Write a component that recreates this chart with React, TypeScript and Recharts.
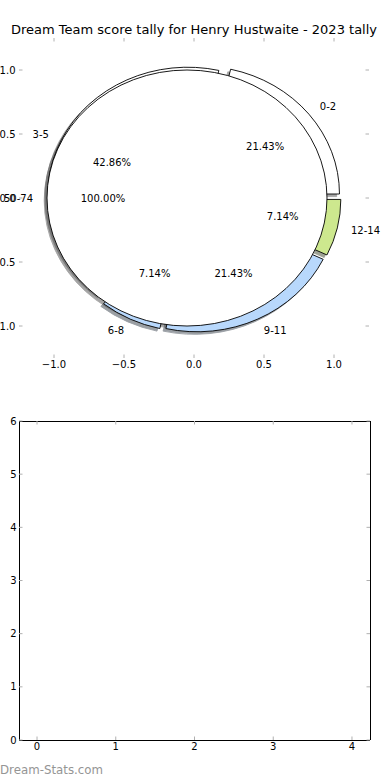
import React from 'react';
import { ScatterChart, Scatter, PieChart, Pie, XAxis, YAxis } from 'recharts';

// ---------- data ----------
const TITLE = 'Dream Team score tally for Henry Hustwaite - 2023 tally';
const WATERMARK = 'Dream-Stats.com';

const OUTER_CATEGORIES = ['0-2', '3-5', '6-8', '9-11', '12-14'];
const OUTER_VALUES = [3, 6, 1, 3, 1];
const INNER_CATEGORIES = ['50-74'];
const INNER_VALUES = [14];

const PIE_TICKS = [-1, -0.5, 0, 0.5, 1];
const BAR_X_TICKS = [0, 1, 2, 3, 4];
const BAR_Y_TICKS = [0, 1, 2, 3, 4, 5, 6];
const BAR_POINTS: { x: number; y: number }[] = [];

// ---------- styles ----------
const OUTER_COLORS = ['#ffffff', '#ffffff', '#b8d8fc', '#b8d8fc', '#cde88e'];
const INNER_COLORS = ['#ffffff'];
const FONT = "'DejaVu Sans', sans-serif";
const KY = 128 / 140; // vertical/horizontal unit ratio of the pie axes
const EXPLODE = 0.05;
const SHADOW_OFF = 0.02;
const RAD = Math.PI / 180;
const TICK_COLOR = '#b0b0b0';

const outerData = OUTER_CATEGORIES.map((name, i) => ({ name, value: OUTER_VALUES[i], color: OUTER_COLORS[i] }));
const innerData = INNER_CATEGORIES.map((name, i) => ({ name, value: INNER_VALUES[i], color: INNER_COLORS[i] }));

function sectorPath(cx: number, cy: number, r: number, a0: number, a1: number) {
  const ry = r * KY;
  if (Math.abs(a1 - a0) >= 359.999) {
    return `M ${cx + r} ${cy} A ${r} ${ry} 0 1 0 ${cx - r} ${cy} A ${r} ${ry} 0 1 0 ${cx + r} ${cy} Z`;
  }
  const x0 = cx + r * Math.cos(a0 * RAD);
  const y0 = cy - ry * Math.sin(a0 * RAD);
  const x1 = cx + r * Math.cos(a1 * RAD);
  const y1 = cy - ry * Math.sin(a1 * RAD);
  const large = Math.abs(a1 - a0) > 180 ? 1 : 0;
  const sweep = a1 > a0 ? 0 : 1;
  return `M ${cx} ${cy} L ${x0} ${y0} A ${r} ${ry} 0 ${large} ${sweep} ${x1} ${y1} Z`;
}

function shadowColor(hex: string) {
  const n = parseInt(hex.slice(1), 16);
  const r = Math.round(((n >> 16) & 255) * 0.3);
  const g = Math.round(((n >> 8) & 255) * 0.3);
  const b = Math.round((n & 255) * 0.3);
  return `rgb(${r},${g},${b})`;
}

function makeShape(kind: 'wedge' | 'shadow' | 'none') {
  return (p: any) => {
    if (kind === 'none') return <g />;
    const R = p.outerRadius;
    const mid = p.midAngle * RAD;
    let cx = p.cx + EXPLODE * R * Math.cos(mid);
    let cy = p.cy - EXPLODE * R * KY * Math.sin(mid);
    const color = (p.payload && p.payload.color) || p.color || '#ffffff';
    if (kind === 'shadow') {
      cx -= SHADOW_OFF * R;
      cy += SHADOW_OFF * R * KY;
      const sc = shadowColor(color);
      return (
        <path d={sectorPath(cx, cy, R, p.startAngle, p.endAngle)} fill={sc} stroke={sc} strokeWidth={0.9} opacity={0.5} />
      );
    }
    return <path d={sectorPath(cx, cy, R, p.startAngle, p.endAngle)} fill={color} stroke="#000" strokeWidth={0.9} />;
  };
}

function renderLabel(p: any) {
  const R = p.outerRadius;
  const mid = p.midAngle * RAD;
  const c = Math.cos(mid);
  const s = Math.sin(mid);
  const ex = p.cx + EXPLODE * R * c;
  const ey = p.cy - EXPLODE * R * KY * s;
  const lx = ex + 1.1 * R * c;
  const ly = ey - 1.1 * R * KY * s;
  const px = ex + 0.6 * R * c;
  const py = ey - 0.6 * R * KY * s;
  const anchor = lx - p.cx > 0 ? 'start' : 'end';
  const name = (p.payload && p.payload.name) || p.name;
  return (
    <g>
      <text x={lx} y={ly} dy="0.36em" textAnchor={anchor} fontSize={10} fill="#000" fontFamily={FONT}>
        {name}
      </text>
      <text x={px} y={py} dy="0.36em" textAnchor="middle" fontSize={10} fill="#000" fontFamily={FONT}>
        {(p.percent * 100).toFixed(2) + '%'}
      </text>
    </g>
  );
}

const tickStyle = { fontSize: 10, fill: '#000', fontFamily: FONT };
const spine = { stroke: '#000', strokeWidth: 1, shapeRendering: 'crispEdges' };
const fmtPie = (v: number) => (v < 0 ? '\u2212' : '') + Math.abs(v).toFixed(1);
const fmtNone = () => '';

export default function App() {
  const wedgeShadow = makeShape('shadow');
  const wedge = makeShape('wedge');
  const none = makeShape('none');
  return (
    <div style={{ position: 'absolute', left: 0, top: 0, width: 390, height: 780, background: '#fff', overflow: 'hidden' }}>
      {/* pie axes */}
      <div style={{ position: 'absolute', left: 0, top: 0 }}>
        <ScatterChart width={390} height={400} margin={{ top: 0, right: 0, bottom: 0, left: 0 }}>
          <XAxis xAxisId="b" dataKey="x" type="number" domain={[-1.25, 1.25]} allowDataOverflow ticks={PIE_TICKS} tickFormatter={fmtPie}
            height={42} axisLine={false} tickSize={-3.5} tickMargin={6} tickLine={{ stroke: TICK_COLOR }} tick={tickStyle} interval={0} />
          <XAxis xAxisId="t" dataKey="x" orientation="top" type="number" domain={[-1.25, 1.25]} allowDataOverflow ticks={PIE_TICKS} tickFormatter={fmtNone}
            height={38} axisLine={false} tickSize={-3.5} tickLine={{ stroke: TICK_COLOR }} tick={tickStyle} interval={0} />
          <YAxis yAxisId="l" dataKey="y" type="number" domain={[-1.25, 1.25]} allowDataOverflow ticks={PIE_TICKS} tickFormatter={fmtPie}
            width={19} axisLine={false} tickSize={-3.5} tickMargin={7} tickLine={{ stroke: TICK_COLOR }} tick={tickStyle} interval={0} />
          <YAxis yAxisId="r" dataKey="y" orientation="right" type="number" domain={[-1.25, 1.25]} allowDataOverflow ticks={PIE_TICKS} tickFormatter={fmtNone}
            width={21} axisLine={false} tickSize={-3.5} tickLine={{ stroke: TICK_COLOR }} tick={tickStyle} interval={0} />
          <Scatter data={BAR_POINTS} xAxisId="b" yAxisId="l" isAnimationActive={false} />
          <Scatter data={BAR_POINTS} xAxisId="t" yAxisId="r" isAnimationActive={false} />
        </ScatterChart>
      </div>
      {/* pies */}
      <div style={{ position: 'absolute', left: 0, top: 0 }}>
        <PieChart width={390} height={400} margin={{ top: 0, right: 0, bottom: 0, left: 0 }}>
          <Pie data={outerData} dataKey="value" nameKey="name" cx={194} cy={198} outerRadius={140} innerRadius={0}
            startAngle={0} endAngle={360} isAnimationActive={false} shape={wedgeShadow} inactiveShape={wedgeShadow} activeShape={wedgeShadow} labelLine={false} />
          <Pie data={innerData} dataKey="value" nameKey="name" cx={194} cy={198} outerRadius={140} innerRadius={0}
            startAngle={0} endAngle={360} isAnimationActive={false} shape={wedgeShadow} inactiveShape={wedgeShadow} activeShape={wedgeShadow} labelLine={false} />
          <Pie data={outerData} dataKey="value" nameKey="name" cx={194} cy={198} outerRadius={140} innerRadius={0}
            startAngle={0} endAngle={360} isAnimationActive={false} shape={wedge} inactiveShape={wedge} activeShape={wedge} labelLine={false} />
          <Pie data={innerData} dataKey="value" nameKey="name" cx={194} cy={198} outerRadius={140} innerRadius={0}
            startAngle={0} endAngle={360} isAnimationActive={false} shape={wedge} inactiveShape={wedge} activeShape={wedge} labelLine={false} />
          <Pie data={outerData} dataKey="value" nameKey="name" cx={194} cy={198} outerRadius={140} innerRadius={0}
            startAngle={0} endAngle={360} isAnimationActive={false} shape={none} inactiveShape={none} activeShape={none}
            label={renderLabel} labelLine={false} />
          <Pie data={innerData} dataKey="value" nameKey="name" cx={194} cy={198} outerRadius={140} innerRadius={0}
            startAngle={0} endAngle={360} isAnimationActive={false} shape={none} inactiveShape={none} activeShape={none}
            label={renderLabel} labelLine={false} />
        </PieChart>
      </div>
      {/* empty bottom axes */}
      <div style={{ position: 'absolute', left: 0, top: 400 }}>
        <ScatterChart width={390} height={380} margin={{ top: 0, right: 0, bottom: 0, left: 0 }}>
          <XAxis xAxisId="b" dataKey="x" type="number" domain={[-0.229, 4.229]} allowDataOverflow ticks={BAR_X_TICKS}
            height={40} axisLine={spine} tickSize={-3.5} tickMargin={6} tickLine={{ stroke: TICK_COLOR }} tick={tickStyle} interval={0} />
          <XAxis xAxisId="t" dataKey="x" orientation="top" type="number" domain={[-0.229, 4.229]} allowDataOverflow ticks={BAR_X_TICKS} tickFormatter={fmtNone}
            height={21} axisLine={spine} tickSize={-3.5} tickLine={{ stroke: TICK_COLOR }} tick={tickStyle} interval={0} />
          <YAxis yAxisId="l" dataKey="y" type="number" domain={[0, 6]} allowDataOverflow ticks={BAR_Y_TICKS}
            width={19} axisLine={spine} tickSize={-3.5} tickMargin={6} tickLine={{ stroke: TICK_COLOR }} tick={tickStyle} interval={0} />
          <YAxis yAxisId="r" dataKey="y" orientation="right" type="number" domain={[0, 6]} allowDataOverflow ticks={BAR_Y_TICKS} tickFormatter={fmtNone}
            width={20} axisLine={spine} tickSize={-3.5} tickLine={{ stroke: TICK_COLOR }} tick={tickStyle} interval={0} />
          <Scatter data={BAR_POINTS} xAxisId="b" yAxisId="l" isAnimationActive={false} />
          <Scatter data={BAR_POINTS} xAxisId="t" yAxisId="r" isAnimationActive={false} />
        </ScatterChart>
      </div>
      {/* title and watermark */}
      <svg width={390} height={780} style={{ position: 'absolute', left: 0, top: 0, pointerEvents: 'none' }}>
        <text x={194} y={33.5} textAnchor="middle" fontSize={13} fill="#000" fontFamily={FONT}>{TITLE}</text>
        <text x={0} y={774} fontSize={11.8} fill="#959595" fontFamily={FONT}>{WATERMARK}</text>
      </svg>
    </div>
  );
}
